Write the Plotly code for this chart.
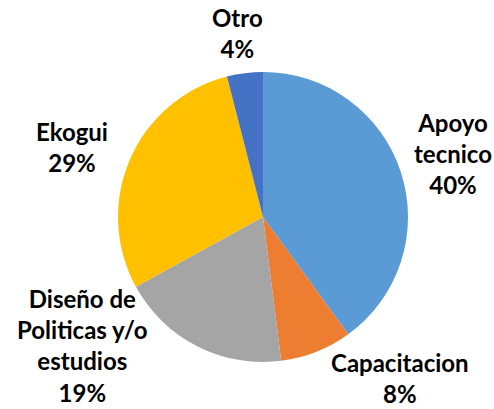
import plotly.graph_objects as go

categories = ["Apoyo<br>tecnico", "Capacitacion", "Diseño de<br>Politicas y/o<br>estudios", "Ekogui", "Otro"]
values = [40, 8, 19, 29, 4]
colors = ["#5B9BD5", "#ED7D31", "#A5A5A5", "#FFC000", "#4472C4"]

W, H = 494, 409
cx, cy, r = 263, 217, 145

fig = go.Figure(go.Pie(
    labels=categories,
    values=values,
    sort=False,
    direction="clockwise",
    rotation=0,
    marker=dict(colors=colors, line=dict(width=0)),
    textinfo="none",
    hoverinfo="label+percent",
    showlegend=False,
    domain=dict(x=[(cx - r) / W, (cx + r) / W], y=[(H - cy - r) / H, (H - cy + r) / H]),
))

# label centres (pixels) as placed in the original chart
label_pos = [(453, 153), (400, 378), (82, 345), (72, 147), (237, 33)]
total = sum(values)
for cat, v, (px, py) in zip(categories, values, label_pos):
    fig.add_annotation(
        x=px / W, y=1 - py / H, xref="paper", yref="paper",
        text=f"<b>{cat}<br>{round(100 * v / total)}%</b>",
        showarrow=False, xanchor="center", yanchor="middle",
        font=dict(family="Lato", size=24, color="black"),
    )

fig.update_layout(
    width=W, height=H,
    margin=dict(l=0, r=0, t=0, b=0),
    paper_bgcolor="white", plot_bgcolor="white",
)

fig.write_html("out.html", config={"displayModeBar": False},
               post_script="document.body.style.margin='0';document.body.style.overflow='hidden';")
